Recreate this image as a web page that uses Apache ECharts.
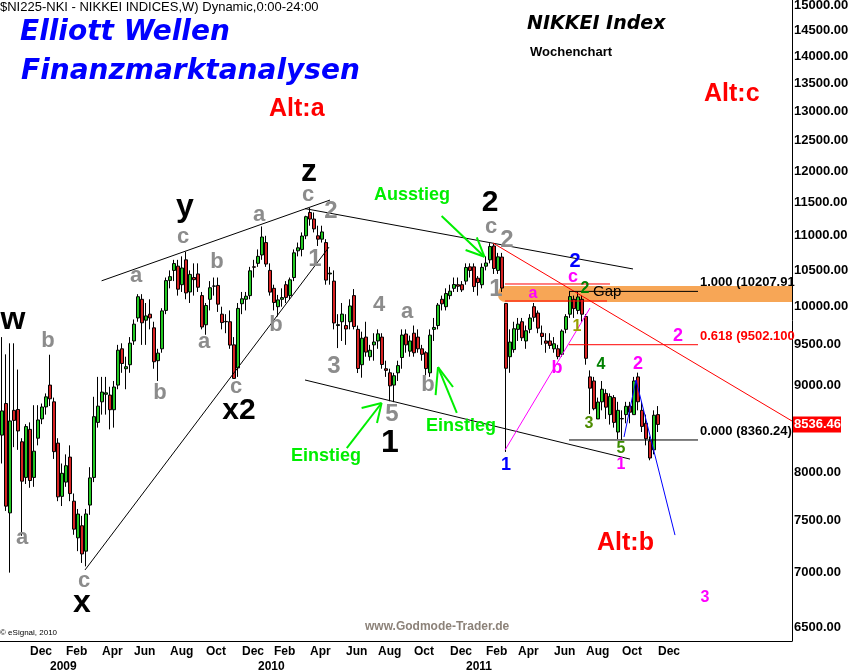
<!DOCTYPE html>
<html><head><meta charset="utf-8">
<script src="https://cdn.jsdelivr.net/npm/echarts@6/dist/echarts.min.js"></script>
<style>html,body{margin:0;padding:0;background:#fff}#c{width:849px;height:672px}</style>
</head><body><div id="c"></div>
<script>
// ---------- data ----------
const FIRST_WEEK = '2008-10-13';   // Monday of first weekly bar
const WEEKS_ON_AXIS = 198;
const LABEL_END = '2011-12-31';
const MONTH_NAMES = {1:'Feb',3:'Apr',5:'Jun',7:'Aug',9:'Oct',11:'Dec'};
const opens = [8415,8780,7580,8700,8710,8340,7950,8480,7950,8380,
8600,8740,9000,8800,8325,7750,7900,8170,7700,7330,
7450,7200,7660,7950,8560,8800,8890,8880,8707,9000,
9450,9200,9250,9550,9850,10100,9820,9900,9720,9300,
9450,9950,10360,10500,10560,10300,10650,10200,10400,10450,
10150,9760,10100,10280,10290,9900,9800,9800,9500,9210,
10040,10100,10150,10550,10600,10720,10900,10500,10250,10000,
10100,10300,10150,10400,10780,10800,11000,11350,11250,11000,
10950,10900,10450,10350,9750,9800,9750,9800,10150,9700,
9250,9600,9350,9500,9550,9600,9200,9150,9000,9150,
9340,9640,9420,9650,9600,9450,9400,9150,9700,9750,
10100,10000,10150,10250,10300,10300,10350,10550,10550,10390,
10300,10560,10650,10850,10500,10690,10044,9350,9440,9700,
9800,9550,9700,10000,9915,9650,9550,9550,9450,9450,
9380,9700,9900,10100,9950,10100,9870,9100,9050,8600,
8800,8900,8650,8850,8450,8600,8650,8750,8650,9100,
8700,8550,8350,8250,8650];
const closes = [8693,7649,8577,8583,8462,7910,8512,7917,8235,8588,
8739,8859,8836,8230,7745,7994,8076,7779,7416,7568,
7173,7569,7945,8626,8749,8916,8907,8707,8977,9432,
9265,9225,9522,9768,10135,9786,9877,9850,9287,9395,
9944,10357,10412,10597,10238,10534,10187,10444,10370,10265,
9731,10016,10258,10282,10034,9789,9804,9497,9081,9977,
10107,10142,10494,10546,10700,10982,10590,10198,10057,10092,
10123,10126,10368,10751,10824,10996,11286,11250,11102,10950,
11057,10364,10462,9784,9762,9901,9705,10010,9737,9203,
9585,9408,9431,9537,9642,9253,9180,8991,9114,9239,
9626,9500,9550,9400,9450,9380,9202,9625,9725,10022,
10039,10178,10211,10303,10279,10229,10541,10499,10274,10330,
10543,10605,10842,10527,10693,10254,9206,9536,9708,9768,
9591,9682,9849,9859,9716,9607,9521,9492,9514,9351,
9678,9868,10137,9974,10132,9900,9330,8963,8719,8797,
8950,8737,8864,8560,8700,8605,8747,8678,9050,8801,
8514,8374,8160,8643,8536.46];
const lows = [8100,7600,6995,8280,8250,7350,7880,7840,7850,8300,
8540,8650,8750,8150,7700,7650,7850,7700,7360,7200,
7087,7054,7560,7900,8500,8650,8650,8480,8500,8950,
9150,8950,9150,9500,9800,9500,9500,9700,9200,9050,
9400,9900,10250,10350,10150,10200,10100,10050,10150,10200,
9700,9630,9950,10150,9930,9700,9650,9450,9076,9100,
9900,9950,10100,10400,10550,10650,10550,10150,9950,9870,
10000,10050,10100,10350,10700,10700,10950,11150,11050,10850,
10900,10300,10300,9700,9459,9550,9500,9700,9700,9147,
9090,9350,9300,9300,9450,9200,9100,8807,8796,9050,
9200,9400,9350,9350,9400,9300,9120,9100,9550,9700,
9950,9950,10100,10200,10200,10200,10300,10400,10200,10150,
10250,10500,10600,10450,10450,10200,8227,9150,9400,9550,
9550,9450,9650,9800,9650,9500,9400,9450,9400,9318,
9350,9650,9850,9850,9900,9800,9250,8656,8700,8600,
8700,8600,8535,8500,8370,8360.24,8550,8550,8650,8700,
8450,8300,8135,8200,8450];
const highs = [9600,9380,9520,9520,9190,8380,8540,8560,8760,8760,
8780,8900,9375,8850,8380,8100,8200,8300,7780,7620,
7550,7620,8060,8860,9100,9100,9100,8980,9050,9500,
9520,9350,9600,9830,10170,10170,10050,10100,9800,9450,
9980,10400,10500,10650,10650,10700,10767,10500,10600,10600,
10200,10050,10350,10400,10400,10000,9900,9950,9600,10050,
10200,10200,10550,10650,10800,11139,11000,10600,10300,10160,
10250,10350,10400,10800,10900,11050,11300,11420,11350,11150,
11150,10950,10550,10500,9900,10050,9900,10100,10240,9750,
9670,9800,9500,9650,9700,9650,9300,9200,9150,9300,
9700,9700,9620,9750,9700,9500,9420,9700,9850,10050,
10150,10250,10300,10400,10400,10350,10600,10600,10600,10420,
10600,10700,10891,10880,10750,10750,10050,9700,9800,9850,
9850,9750,9900,10050,9950,9750,9650,9650,9600,9500,
9700,9900,10207.91,10150,10200,10150,9900,9180,9100,8850,
9050,8950,8900,8880,8800,8700,8800,8800,9100,9152,
8800,8650,8400,8700,8750];
const yTicks = [15000,14500,14000,13500,13000,12500,12000,11500,11000,10500,10000,9500,9000,8000,7500,7000,6500];
const lastPrice = 8536.46;
const fibLevels = [
  {value:10207.91, text:'1.000 (10207.91', color:'#000000'},
  {value:9502.1,   text:'0.618 (9502.100', color:'#ff0000'},
  {value:8360.24,  text:'0.000 (8360.24)', color:'#000000'}
];

// ---------- axis categories (weekly) ----------
const cats = [];
{
  const d0 = new Date(FIRST_WEEK + 'T00:00:00Z');
  for (let i = 0; i < WEEKS_ON_AXIS; i++) {
    const d = new Date(d0.getTime() + i * 7 * 86400000);
    cats.push(d.toISOString().slice(0, 10));
  }
}
const ohlc = opens.map((o, i) => [o, closes[i], lows[i], highs[i]]);

const LS = '"Liberation Sans", Arial, sans-serif';
const DJ = '"DejaVu Sans", Verdana, sans-serif';

const chart = echarts.init(document.getElementById('c'), null, {renderer: 'canvas'});
const option = {
  animation: false,
  backgroundColor: '#ffffff',
  grid: {left: 0, right: 57, top: 0, bottom: 31, containLabel: false, outerBoundsMode: 'none'},
  xAxis: [{
    type: 'category', data: cats, boundaryGap: true,
    axisLine: {show: true, onZero: false, lineStyle: {color: '#000', width: 1}},
    axisTick: {show: false}, splitLine: {show: false},
    axisLabel: {
      interval: 0, align: 'left', margin: 3, color: '#000', fontWeight: 'bold',
      fontSize: 12, fontFamily: LS, lineHeight: 15,
      formatter: function (val, idx) {
        if (idx === 0 || val > LABEL_END) return '';
        const d = new Date(val + 'T00:00:00Z');
        if (d.getUTCDate() > 7) return '';
        const m = d.getUTCMonth();
        if (m === 0) return '\n' + d.getUTCFullYear();
        return MONTH_NAMES[m] || '';
      }
    }
  }, {
    type: 'value', min: -0.5, max: WEEKS_ON_AXIS - 0.5, show: false,
    axisLine: {show: false, onZero: false}
  }],
  yAxis: [{
    type: 'log', logBase: 10, min: 6381, max: 15101, position: 'right',
    axisLine: {show: true, onZero: false, lineStyle: {color: '#000', width: 1}},
    axisTick: {show: false}, axisLabel: {show: false}, splitLine: {show: false}
  }],
  series: [{
    type: 'candlestick', xAxisIndex: 0, yAxisIndex: 0, data: ohlc, barWidth: 3, z: 3,
    itemStyle: {color: '#22c822', color0: '#d62222', borderColor: '#000', borderColor0: '#000', borderColorDoji: '#000', borderWidth: 1}
  }]
};
chart.setOption(option);

// ---------- annotations (data coordinates: [week index, price]) ----------
const trendLines = [
  {a:[24.9,10354], b:[82,11541], c:'#000'},
  {a:[20.75,7020], b:[81.75,10834], c:'#000'},
  {a:[75.75,11409], b:[157.75,10520], c:'#000'},
  {a:[75.75,9062], b:[157,8148], c:'#000'},
  {a:[122.75,10893], b:[197.5,8576], c:'#ff0000'},
  {a:[125.75,8247], b:[147,9982], c:'#ff00ff'},
  {a:[155.5,8394], b:[158.5,9062], c:'#0000ff'},
  {a:[158.5,9062], b:[168.25,7357], c:'#0000ff'},
  {a:[125.75,10310], b:[152,10310], c:'#ff0000'},
  {a:[125.75,10077], b:[151.25,10077], c:'#ff0000'}
];
const fibSpan = [141.75, 174];
const gapBand = {x0:124, x1:197.5, top:10282, bottom:10062};
const arrows = [
  {tail:[109.9,11297], tip:[120.6,10695], h1:[115.9,10791], h2:[118.7,10977]},
  {tail:[86.2,8270], tip:[94.9,8786], h1:[89.9,8727], h2:[93.75,8553]},
  {tail:[113.7,8669], tip:[109,9221], h1:[112.75,8977], h2:[108.4,8880]}
];
const GREY = '#8c8c8c';
const labels = [
  // grey wave letters
  ['a',5,7328,GREY,22],['b',11.5,9550,GREY,22],['c',20.5,6918,GREY,22],['a',33.5,10420,GREY,22],
  ['c',45.25,10982,GREY,22],['b',39.5,8904,GREY,22],['b',53.75,10620,GREY,22],['a',50.5,9536,GREY,22],
  ['c',58.5,8977,GREY,22],['a',64.25,11312,GREY,22],['b',68.5,9756,GREY,22],['c',76.5,11619,GREY,22],
  ['2',82.25,11373,GREY,24],['1',78.25,10662,GREY,24],['3',83,9234,GREY,24],['4',94.25,10023,GREY,22],
  ['a',101.25,9929,GREY,22],['5',97.5,8657,GREY,24],['b',106.5,9002,GREY,22],['c',122.25,11130,GREY,22],
  ['2',126.25,10937,GREY,24],['1',123.5,10241,GREY,24],
  // big black wave labels
  ['w',2.75,9822,'#000',32],['y',45.75,11434,'#000',32],['z',76.75,11984,'#000',32],
  ['x2',59.25,8691,'#000',30],['x',20,6714,'#000',32],['1',97,8327,'#000',32],['2',122,11496,'#000',30],
  // green trade texts
  ['Ausstieg',102.5,11619,'#00ee00',18],['Einstieg',81,8181,'#00ee00',18],['Einstieg',114.75,8518,'#00ee00',18],
  // coloured counts
  ['1',126,8083,'#0000ff',18],['2',143.25,10633,'#0000ff',20],['c',142.75,10407,'#ff00ff',18],
  ['a',132.75,10173,'#ff00ff',16],['b',138.75,9209,'#ff00ff',18],['2',145.75,10241,'#008000',16],
  ['1',143.75,9731,'#99a000',16],['4',149.75,9246,'#008000',16],['3',146.75,8541,'#4d8c00',16],
  ['5',154.75,8259,'#3c8c00',16],['1',154.75,8083,'#ff00ff',16],['2',159,9259,'#ff00ff',18],
  ['2',169,9614,'#ff00ff',18],['3',175.75,6760,'#ff00ff',16]
];

const P = (x, v) => chart.convertToPixel({xAxisIndex: 1, yAxisIndex: 0}, [x, v]);
const Yp = v => chart.convertToPixel({yAxisIndex: 0}, v);
const gridRight = 849 - 57;
const els = [];
function addLine(a, b, color, width, dash, z) {
  els.push({type: 'line', z: z || 10, silent: true,
    shape: {x1: a[0], y1: a[1], x2: b[0], y2: b[1]},
    style: {stroke: color, lineWidth: width || 1, lineDash: dash || null}});
}
function addText(t, x, y, fill, font, align, vAlign, z) {
  els.push({type: 'text', z: z || 20, silent: true, x: x, y: y,
    style: {text: t, fill: fill, font: font, align: align || 'center', verticalAlign: vAlign || 'middle'}});
}

// gap band
{
  const p1 = P(gapBand.x0, gapBand.top), p2 = P(gapBand.x1, gapBand.bottom);
  els.push({type: 'rect', z: 1, silent: true,
    shape: {x: p1[0], y: p1[1], width: p2[0] - p1[0], height: p2[1] - p1[1], r: [7, 0, 0, 7]},
    style: {fill: '#f7a656'}});
}
trendLines.forEach(l => addLine(P(l.a[0], l.a[1]), P(l.b[0], l.b[1]), l.c, 1, l.dash));
fibLevels.forEach(f => {
  const a = P(fibSpan[0], f.value), b = P(fibSpan[1], f.value);
  addLine(a, b, f.color, 1);
  addText(f.text, b[0] + 2, a[1] - 2, f.color, 'bold 13px ' + LS, 'left', 'bottom');
});
arrows.forEach(ar => {
  const tip = P(ar.tip[0], ar.tip[1]);
  addLine(P(ar.tail[0], ar.tail[1]), tip, '#00ee00', 2);
  addLine(P(ar.h1[0], ar.h1[1]), tip, '#00ee00', 2);
  addLine(P(ar.h2[0], ar.h2[1]), tip, '#00ee00', 2);
});
labels.forEach(l => {
  const p = P(l[1], l[2]);
  addText(l[0], p[0], p[1], l[3], 'bold ' + l[4] + 'px ' + LS);
});
// Gap text
{
  const p = P(147.75, 10199);
  addText('Gap', p[0], p[1], '#000', '15px ' + LS, 'left');
}
// y-axis tick labels
yTicks.forEach(v => addText(v.toFixed(2), gridRight + 2, Yp(v), '#000', 'bold 13px ' + LS, 'left'));
// last price box
{
  const y = Yp(lastPrice);
  els.push({type: 'rect', z: 30, silent: true, shape: {x: gridRight + 1, y: y - 8, width: 48, height: 16}, style: {fill: '#ff0000'}});
  addText(lastPrice.toFixed(2), gridRight + 2, y, '#ffffff', 'bold 13px ' + LS, 'left', 'middle', 31);
}
// titles and texts
addText('$NI225-NKI - NIKKEI INDICES,W) Dynamic,0:00-24:00', 0, 7, '#000', '13px ' + LS, 'left');
addText('Elliott Wellen', 20, 33, '#0000ff', 'italic bold 28px ' + DJ, 'left');
addText('Finanzmarktanalysen', 21, 72, '#0000ff', 'italic bold 28px ' + DJ, 'left');
addText('NIKKEI Index', 527, 24, '#000', 'italic bold 19px ' + DJ, 'left');
addText('Wochenchart', 530, 52, '#000', 'bold 13px ' + LS, 'left');
addText('Alt:a', 269, 109, '#ff0000', 'bold 25px ' + LS, 'left');
addText('Alt:c', 704, 94, '#ff0000', 'bold 25px ' + LS, 'left');
addText('Alt:b', 597, 543, '#ff0000', 'bold 25px ' + LS, 'left');
addText('www.Godmode-Trader.de', 365, 627, '#8c8279', 'bold 12px ' + LS, 'left');
addText('\u00a9 eSignal, 2010', 0, 633, '#000', '8px ' + LS, 'left');

chart.setOption({graphic: {elements: els}});
</script>
</body></html>
